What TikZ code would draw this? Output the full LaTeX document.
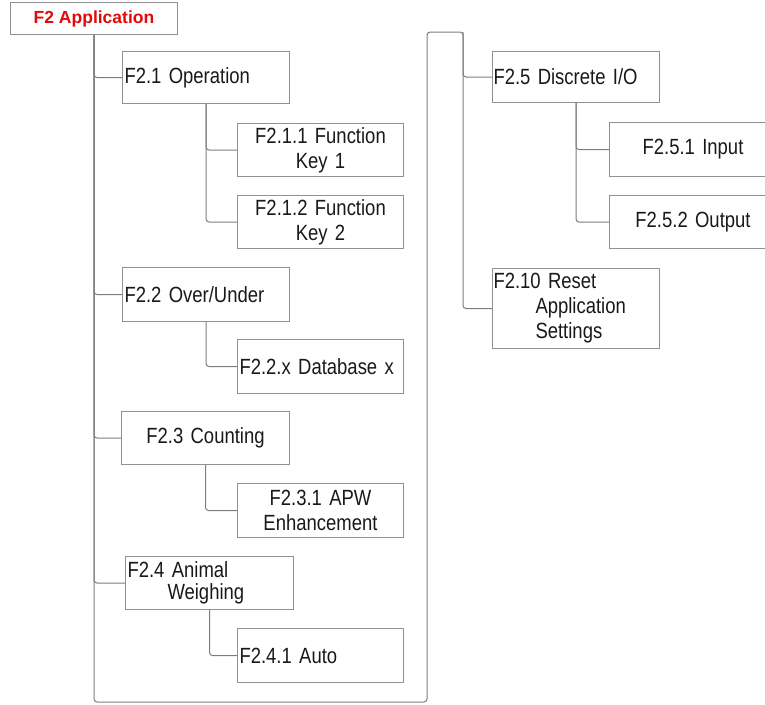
\documentclass[tikz,border=0pt]{standalone}
\usepackage{fontspec}
\setmainfont[FakeStretch=0.84]{Liberation Sans}
\newfontfamily\headfont{Liberation Sans}
\usepackage{xcolor}
\usepackage{tikz}
\usetikzlibrary{positioning}

\definecolor{menured}{RGB}{225,10,10}
\definecolor{wiregray}{RGB}{125,125,125}
\definecolor{boxgray}{RGB}{145,145,145}
\definecolor{inkgray}{RGB}{25,25,25}

\begin{document}
\begin{tikzpicture}[x=1pt, y=-1pt,
  menu/.style={draw=boxgray, line width=1pt, anchor=north west, inner xsep=2pt, inner ysep=0pt,
    font=\fontsize{22}{25}\selectfont, text=inkgray},
  lmenu/.style={menu, align=left},
  cmenu/.style={menu, align=center},
  head/.style={draw=boxgray, line width=1pt, anchor=north west, inner sep=0pt, align=center,
    font=\headfont\bfseries\fontsize{17.5}{20}\selectfont, text=menured},
  wire/.style={draw=wiregray, line width=1pt, rounded corners=3pt},
]
\useasboundingbox (0,0) rectangle (765,704);

% root
\node[head, minimum width=167pt, minimum height=32pt] (app) at (10,2) {F2 Application};

% left column
\node[lmenu, text width=163pt, minimum height=52pt] (op) at (122,51) {F2.1 Operation};
\node[cmenu, text width=162pt, minimum height=53pt] (fk1) at (237,123) {F2.1.1 Function\\Key 1};
\node[cmenu, text width=162pt, minimum height=53pt] (fk2) at (237,195) {F2.1.2 Function\\Key 2};
\node[lmenu, text width=163pt, minimum height=54pt] (ou) at (122,267) {F2.2 Over/Under};
\node[lmenu, text width=162pt, minimum height=54pt] (db) at (237,339) {F2.2.x Database x};
\node[cmenu, text width=164pt, minimum height=53pt] (cnt) at (121,411) {F2.3 Counting};
\node[cmenu, text width=162pt, minimum height=54pt] (apw) at (237,483) {F2.3.1 APW\\Enhancement};
\node[lmenu, text width=164pt, minimum height=53pt, font=\fontsize{22}{22}\selectfont] (aw) at (125,556)
  {F2.4 Animal\\\hspace*{40pt}Weighing};
\node[lmenu, text width=162pt, minimum height=54pt] (auto) at (237,628) {F2.4.1 Auto};

% right column
\node[lmenu, text width=165pt, minimum height=51pt, inner xsep=1pt] (dio) at (492,51) {F2.5 Discrete I/O};
\node[cmenu, text width=163pt, minimum height=54pt] (inp) at (609,122) {F2.5.1 Input};
\node[cmenu, text width=163pt, minimum height=53pt] (outp) at (609,195) {F2.5.2 Output};
\node[lmenu, text width=165pt, minimum height=80pt, inner xsep=1pt] (rst) at (492,268)
  {F2.10 Reset\\\hspace*{42pt}Application\\\hspace*{42pt}Settings};

% trunk running round to the second column
\coordinate (c1) at (app.south |- 0,702);
\coordinate (c2) at (427,702);
\coordinate (c3) at (427,32);
\coordinate (c4) at (463,32);
\draw[wire] (app.south) -- (c1) -- (c2) -- (c3) -- (c4) |- (rst.west);
\draw[wire] (c4) |- (dio.west);

\foreach \m in {op,ou,cnt,aw}
  \draw[wire] (app.south) |- (\m.west);

\draw[wire] (op.south) |- (fk1.west);
\draw[wire] (op.south) |- (fk2.west);
\draw[wire] (ou.south) |- (db.west);
\draw[wire] (cnt.south) |- (apw.west);
\draw[wire] (aw.south) |- (auto.west);
\draw[wire] (dio.south) |- (inp.west);
\draw[wire] (dio.south) |- (outp.west);

\end{tikzpicture}
\end{document}
